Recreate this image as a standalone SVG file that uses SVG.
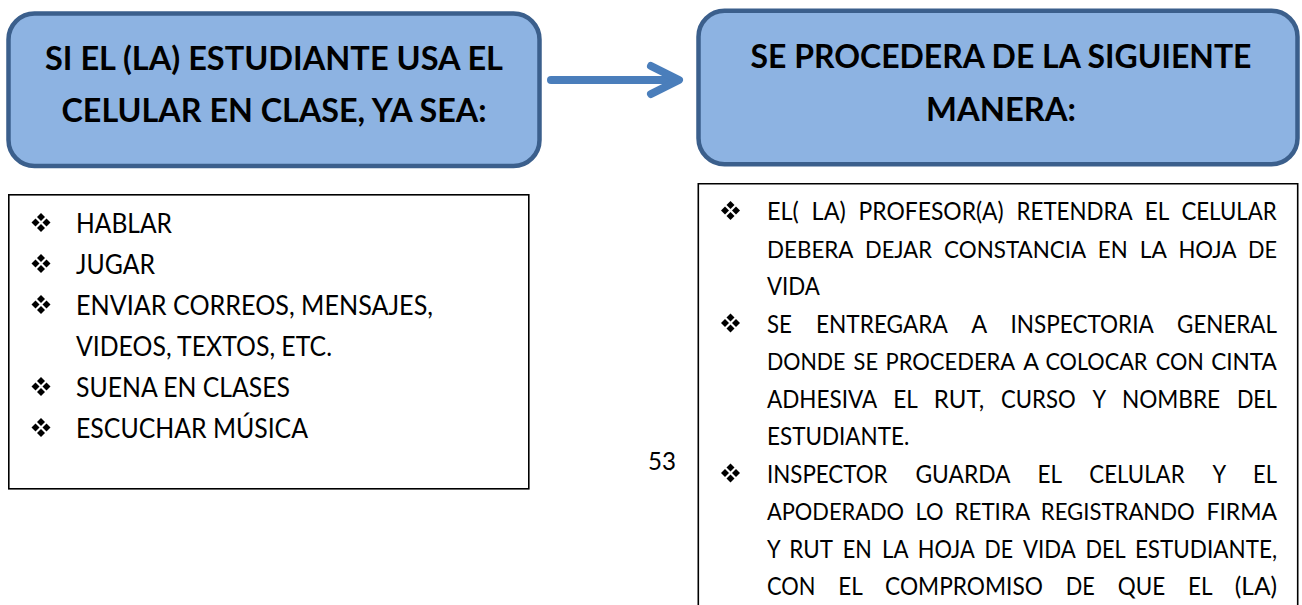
<svg xmlns="http://www.w3.org/2000/svg" width="1302" height="605" viewBox="0 0 1302 605">
<style>
.title{font-family:Lato,"Open Sans","Liberation Sans",sans-serif;font-weight:bold;font-size:33px;fill:#000;}
.hdr{fill:#8db3e2;stroke:#3b5f8c;stroke-width:4.5;}
.list{fill:#fff;stroke:#000;stroke-width:1.6;}
.litem{font-family:Lato,"Open Sans","Liberation Sans",sans-serif;font-size:26px;fill:#000;}
.ritem{font-family:Lato,"Open Sans","Liberation Sans",sans-serif;font-size:25px;fill:#000;}
.tight{font-size:23px;}
.pnum{font-family:Lato,"Open Sans","Liberation Sans",sans-serif;font-size:25px;fill:#000;}
.conn{fill:none;stroke:#4a7ebb;stroke-width:8;stroke-linecap:round;stroke-linejoin:round;}
</style>
<defs>
<g id="bul">
<path d="M0,-9.5 L4,-5.5 L0,-1.5 L-4,-5.5 Z M-9.5,0 L-5.5,-4 L-1.5,0 L-5.5,4 Z M9.5,0 L5.5,-4 L1.5,0 L5.5,4 Z M0,9.5 L4,5.5 L0,1.5 L-4,5.5 Z" fill="#000"/>
</g>
</defs>
<rect width="1302" height="605" fill="#fff"/>

<g id="node-condition">
<rect class="hdr" x="8.5" y="13.5" width="531" height="152.5" rx="26"/>
<text class="title" x="274" y="70" text-anchor="middle" textLength="458" lengthAdjust="spacingAndGlyphs">SI EL (LA) ESTUDIANTE USA EL</text>
<text class="title" x="274" y="122" text-anchor="middle" textLength="425" lengthAdjust="spacingAndGlyphs">CELULAR EN CLASE, YA SEA:</text>
</g>

<g id="node-procedure">
<rect class="hdr" x="698.5" y="10.8" width="599" height="153.4" rx="26"/>
<text class="title" x="1001" y="68" text-anchor="middle" textLength="501" lengthAdjust="spacingAndGlyphs">SE PROCEDERA DE LA SIGUIENTE</text>
<text class="title" x="1001" y="121" text-anchor="middle" textLength="150" lengthAdjust="spacingAndGlyphs">MANERA:</text>
</g>

<g id="connectors">
<line class="conn" x1="551" y1="80" x2="676" y2="80" stroke-linecap="butt"/>
<polyline class="conn" points="651,66 679,80 651,94"/>
</g>

<g id="node-uses">
<rect class="list" x="8.8" y="194.8" width="520" height="294"/>
<use href="#bul" x="41" y="222.5"/>
<text class="litem" x="76" y="233" textLength="96" lengthAdjust="spacingAndGlyphs">HABLAR</text>
<use href="#bul" x="41" y="263.5"/>
<text class="litem" x="76" y="274" textLength="79" lengthAdjust="spacingAndGlyphs">JUGAR</text>
<use href="#bul" x="41" y="304.5"/>
<text class="litem" x="76" y="315" textLength="357" lengthAdjust="spacingAndGlyphs">ENVIAR CORREOS, MENSAJES,</text>
<text class="litem" x="76" y="356" textLength="256" lengthAdjust="spacingAndGlyphs">VIDEOS, TEXTOS, ETC.</text>
<use href="#bul" x="41" y="386.5"/>
<text class="litem" x="76" y="397" textLength="214" lengthAdjust="spacingAndGlyphs">SUENA EN CLASES</text>
<use href="#bul" x="41" y="427.5"/>
<text class="litem" x="76" y="438" textLength="232" lengthAdjust="spacingAndGlyphs">ESCUCHAR MÚSICA</text>
</g>

<text class="pnum" x="648" y="470" textLength="28" lengthAdjust="spacingAndGlyphs">53</text>

<g id="node-steps">
<path class="list" d="M698.3,606 V183.8 H1297.7 V606"/>
<use href="#bul" x="730.5" y="210.5"/>
<text class="ritem" y="220"><tspan x="767" textLength="31.8" lengthAdjust="spacingAndGlyphs">EL(</tspan> <tspan x="811.6" textLength="34.2" lengthAdjust="spacingAndGlyphs">LA)</tspan> <tspan x="858.6" textLength="145.1" lengthAdjust="spacingAndGlyphs">PROFESOR(A)</tspan> <tspan x="1016.5" textLength="115.4" lengthAdjust="spacingAndGlyphs">RETENDRA</tspan> <tspan x="1144.7" textLength="23.9" lengthAdjust="spacingAndGlyphs">EL</tspan> <tspan x="1181.4" textLength="95.3" lengthAdjust="spacingAndGlyphs">CELULAR</tspan></text>
<text class="ritem tight" y="257.5"><tspan x="767" textLength="85.7" lengthAdjust="spacingAndGlyphs">DEBERA</tspan> <tspan x="865" textLength="66.9" lengthAdjust="spacingAndGlyphs">DEJAR</tspan> <tspan x="944.1" textLength="141.4" lengthAdjust="spacingAndGlyphs">CONSTANCIA</tspan> <tspan x="1097.8" textLength="29.8" lengthAdjust="spacingAndGlyphs">EN</tspan> <tspan x="1139.8" textLength="26.3" lengthAdjust="spacingAndGlyphs">LA</tspan> <tspan x="1178.4" textLength="57.4" lengthAdjust="spacingAndGlyphs">HOJA</tspan> <tspan x="1248" textLength="29" lengthAdjust="spacingAndGlyphs">DE</tspan></text>
<text class="ritem" x="767" y="295" textLength="52.9" lengthAdjust="spacingAndGlyphs">VIDA</text>
<use href="#bul" x="730.5" y="323"/>
<text class="ritem" y="332.5"><tspan x="767" textLength="24.9" lengthAdjust="spacingAndGlyphs">SE</tspan> <tspan x="816" textLength="131.1" lengthAdjust="spacingAndGlyphs">ENTREGARA</tspan> <tspan x="971.2" textLength="15.2" lengthAdjust="spacingAndGlyphs">A</tspan> <tspan x="1010.5" textLength="142.5" lengthAdjust="spacingAndGlyphs">INSPECTORIA</tspan> <tspan x="1177.1" textLength="99.8" lengthAdjust="spacingAndGlyphs">GENERAL</tspan></text>
<text class="ritem" style="font-size:22.5px" y="370"><tspan x="767" textLength="78.5" lengthAdjust="spacingAndGlyphs">DONDE</tspan> <tspan x="853.6" textLength="24.5" lengthAdjust="spacingAndGlyphs">SE</tspan> <tspan x="885.5" textLength="129" lengthAdjust="spacingAndGlyphs">PROCEDERA</tspan> <tspan x="1023.2" textLength="15" lengthAdjust="spacingAndGlyphs">A</tspan> <tspan x="1045.4" textLength="102" lengthAdjust="spacingAndGlyphs">COLOCAR</tspan> <tspan x="1155.8" textLength="48" lengthAdjust="spacingAndGlyphs">CON</tspan> <tspan x="1211.2" textLength="65.7" lengthAdjust="spacingAndGlyphs">CINTA</tspan></text>
<text class="ritem" y="407.5"><tspan x="767" textLength="109.5" lengthAdjust="spacingAndGlyphs">ADHESIVA</tspan> <tspan x="893.2" textLength="23.9" lengthAdjust="spacingAndGlyphs">EL</tspan> <tspan x="933.8" textLength="50.5" lengthAdjust="spacingAndGlyphs">RUT,</tspan> <tspan x="1001" textLength="74.7" lengthAdjust="spacingAndGlyphs">CURSO</tspan> <tspan x="1092.4" textLength="12.8" lengthAdjust="spacingAndGlyphs">Y</tspan> <tspan x="1121.9" textLength="98.3" lengthAdjust="spacingAndGlyphs">NOMBRE</tspan> <tspan x="1236.9" textLength="40.1" lengthAdjust="spacingAndGlyphs">DEL</tspan></text>
<text class="ritem" x="767" y="445" textLength="142.2" lengthAdjust="spacingAndGlyphs">ESTUDIANTE.</text>
<use href="#bul" x="730.5" y="473"/>
<text class="ritem" y="482.5"><tspan x="767" textLength="120.6" lengthAdjust="spacingAndGlyphs">INSPECTOR</tspan> <tspan x="915.4" textLength="94.4" lengthAdjust="spacingAndGlyphs">GUARDA</tspan> <tspan x="1037.6" textLength="23.9" lengthAdjust="spacingAndGlyphs">EL</tspan> <tspan x="1089.3" textLength="95.3" lengthAdjust="spacingAndGlyphs">CELULAR</tspan> <tspan x="1212.4" textLength="12.8" lengthAdjust="spacingAndGlyphs">Y</tspan> <tspan x="1253" textLength="23.9" lengthAdjust="spacingAndGlyphs">EL</tspan></text>
<text class="ritem" style="font-size:22.5px" y="520"><tspan x="767" textLength="137" lengthAdjust="spacingAndGlyphs">APODERADO</tspan> <tspan x="915.6" textLength="28" lengthAdjust="spacingAndGlyphs">LO</tspan> <tspan x="954.4" textLength="75" lengthAdjust="spacingAndGlyphs">RETIRA</tspan> <tspan x="1040.8" textLength="154" lengthAdjust="spacingAndGlyphs">REGISTRANDO</tspan> <tspan x="1206.4" textLength="70.7" lengthAdjust="spacingAndGlyphs">FIRMA</tspan></text>
<text class="ritem" y="557.5"><tspan x="767" textLength="12.8" lengthAdjust="spacingAndGlyphs">Y</tspan> <tspan x="789.3" textLength="43" lengthAdjust="spacingAndGlyphs">RUT</tspan> <tspan x="842.7" textLength="29" lengthAdjust="spacingAndGlyphs">EN</tspan> <tspan x="882" textLength="25.8" lengthAdjust="spacingAndGlyphs">LA</tspan> <tspan x="917.7" textLength="56.5" lengthAdjust="spacingAndGlyphs">HOJA</tspan> <tspan x="984.6" textLength="28.5" lengthAdjust="spacingAndGlyphs">DE</tspan> <tspan x="1023" textLength="52" lengthAdjust="spacingAndGlyphs">VIDA</tspan> <tspan x="1085.4" textLength="39.5" lengthAdjust="spacingAndGlyphs">DEL</tspan> <tspan x="1134.9" textLength="142.1" lengthAdjust="spacingAndGlyphs">ESTUDIANTE,</tspan></text>
<text class="ritem" y="595"><tspan x="767" textLength="48.4" lengthAdjust="spacingAndGlyphs">CON</tspan> <tspan x="838.3" textLength="23.9" lengthAdjust="spacingAndGlyphs">EL</tspan> <tspan x="885.1" textLength="157.8" lengthAdjust="spacingAndGlyphs">COMPROMISO</tspan> <tspan x="1065.8" textLength="29" lengthAdjust="spacingAndGlyphs">DE</tspan> <tspan x="1117.7" textLength="47.4" lengthAdjust="spacingAndGlyphs">QUE</tspan> <tspan x="1188" textLength="23.9" lengthAdjust="spacingAndGlyphs">EL</tspan> <tspan x="1234.8" textLength="42.2" lengthAdjust="spacingAndGlyphs">(LA)</tspan></text>
</g>
</svg>
